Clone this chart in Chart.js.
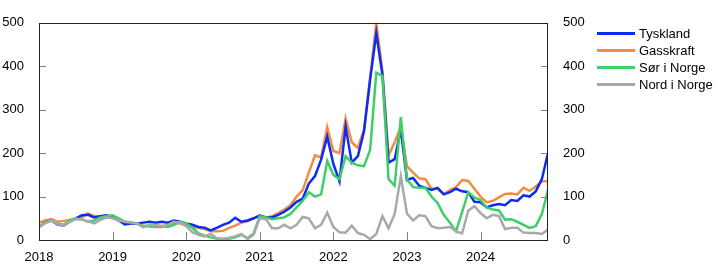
<!DOCTYPE html>
<html>
<head>
<meta charset="utf-8">
<script src="https://cdn.jsdelivr.net/npm/chart.js@4.4.1/dist/chart.umd.min.js"></script>
<style>
  html, body { margin: 0; padding: 0; background: #fff; }
  #wrap { position: relative; width: 722px; height: 278px; }
  canvas { position: absolute; left: 0; top: 0; }
  #legend { position: absolute; left: 597px; top: 25px; font-family: "Liberation Sans", Arial, sans-serif; font-size: 13px; color: #000; }
  .item { position: relative; height: 17px; display: flex; align-items: center; }
  .swatch { width: 38px; height: 3px; margin-right: 4px; }
</style>
</head>
<body>
<div id="wrap">
  <canvas id="c" width="722" height="278"></canvas>
  <div id="legend"></div>
</div>
<script>
// Monthly data, January 2018 – December 2024
const startYear = 2018;
const yearTicks = [2018, 2019, 2020, 2021, 2022, 2023, 2024];
const seriesNames = ["Tyskland", "Gasskraft", "Sør i Norge", "Nord i Norge"];
const seriesColors = ["#0a2cf5", "#f28c45", "#3ecf69", "#a9a9a9"];

const tyskland = [
  30, 40, 45, 36, 33, 42, 50, 57, 58, 52, 55, 57,
  52, 45, 36, 38, 38, 40, 42, 40, 42, 40, 45, 42,
  38, 35, 30, 28, 22, 28, 35, 40, 51, 42, 45, 50,
  56, 52, 52, 58, 65, 75, 88, 95, 130, 147, 185, 238,
  175, 135, 261, 178, 193, 250, 370, 476, 380, 178, 186, 255,
  138, 143, 125, 120, 115, 120, 105, 110, 118, 112, 110, 88,
  87, 75, 80, 83, 80, 92, 90, 103, 100, 112, 140, 200
];
const gasskraft = [
  40, 45, 48, 42, 44, 46, 48, 52, 61, 55, 53, 52,
  52, 46, 42, 40, 37, 33, 31, 30, 30, 35, 40, 38,
  33, 30, 28, 25, 20, 20, 21, 28, 33, 40, 43, 50,
  57, 52, 55, 62, 70, 80, 100, 115, 155, 195, 190, 260,
  205, 200, 280, 225, 212, 255, 375, 500, 390, 195, 225, 260,
  170, 155, 142, 140, 118, 118, 106, 115, 122, 138, 136, 118,
  100, 87, 90, 98, 106, 107, 105, 120, 113, 123, 135, 136
];
const sorNorge = [
  30, 40, 45, 38, 35, 45, 50, 47, 42, 45, 52, 55,
  57, 50, 42, 40, 38, 32, 33, 34, 32, 30, 35, 42,
  38, 28, 15, 10, 6, 3, 2, 3, 6, 12, 4, 15,
  55, 52, 48, 50, 52, 60, 75, 90, 110, 100, 105, 182,
  150, 140, 193, 178, 172, 170, 208, 385, 378, 140, 125, 283,
  140, 122, 120, 120, 100, 85, 58, 40, 20, 65, 110, 98,
  92, 75, 70, 68, 47, 48, 42, 35, 28, 32, 60, 115
];
const nordNorge = [
  30, 38, 45, 38, 33, 42, 48, 48, 43, 38, 46, 52,
  50, 45, 42, 41, 38, 29, 35, 35, 32, 35, 42, 40,
  32, 18, 12, 8, 14, 4, 3, 5, 8, 14, 2, 12,
  50, 48, 27, 27, 35, 27, 35, 53, 50, 27, 35, 63,
  30, 18, 17, 33, 16, 12, 2, 14, 55, 27, 60, 147,
  61, 45, 57, 55, 32, 27, 28, 30, 20, 15, 68, 78,
  62, 50, 58, 55, 25, 28, 28, 17, 16, 16, 14, 24
];
const yTicks = [0, 100, 200, 300, 400, 500];

const allSeries = [tyskland, gasskraft, sorNorge, nordNorge];
const drawOrder = [2, 3, 1, 0]; // grey on top, then green, blue, orange

const toPoints = arr => arr.map((v, i) => ({ x: startYear + i / 12, y: v }));
const lastX = startYear + (tyskland.length - 1) / 12;

const datasets = allSeries.map((arr, k) => ({
  label: seriesNames[k],
  data: toPoints(arr),
  borderColor: seriesColors[k],
  backgroundColor: seriesColors[k],
  borderWidth: 2.5,
  pointRadius: 0,
  tension: 0,
  order: drawOrder[k],
  yAxisID: 'y'
}));

const FONT = { family: '"Liberation Sans", Arial, sans-serif', size: 13 };

const framePlugin = {
  id: 'frame',
  afterDatasetsDraw(chart) {
    const { ctx, chartArea: a, scales } = chart;
    ctx.save();
    ctx.strokeStyle = '#808080';
    ctx.lineWidth = 1;
    ctx.beginPath();
    yTicks.forEach(v => {
      if (v === yTicks[0] || v === yTicks[yTicks.length - 1]) return;
      const y = Math.round(scales.y.getPixelForValue(v)) + 0.5;
      ctx.moveTo(a.left, y); ctx.lineTo(a.left + 7, y);
      ctx.moveTo(a.right, y); ctx.lineTo(a.right - 7, y);
    });
    yearTicks.forEach(yr => {
      if (yr === startYear) return;
      const x = Math.round(scales.x.getPixelForValue(yr)) + 0.5;
      ctx.moveTo(x, a.bottom); ctx.lineTo(x, a.bottom - 8);
    });
    ctx.stroke();
    ctx.strokeStyle = '#222';
    ctx.lineWidth = 1;
    const l = Math.round(a.left) + 0.5, r = Math.round(a.right) - 0.5;
    const t = Math.round(a.top) + 0.5, b = Math.round(a.bottom) + 0.5;
    ctx.strokeRect(l, t, r - l, b - t);
    ctx.restore();
  }
};

const noGrid = { display: false, drawTicks: false, tickLength: 0 };

new Chart(document.getElementById('c'), {
  type: 'line',
  data: { datasets },
  options: {
    responsive: false,
    animation: false,
    events: [],
    layout: { padding: { top: 17, left: 0, right: 0, bottom: 0 } },
    plugins: { legend: { display: false }, tooltip: { enabled: false } },
    scales: {
      x: {
        type: 'linear',
        min: startYear,
        max: lastX,
        afterFit: s => { s.height = 38; },
        afterBuildTicks: s => { s.ticks = yearTicks.map(v => ({ value: v })); },
        grid: noGrid,
        border: { display: false },
        ticks: {
          font: FONT, color: '#000', padding: 10, maxRotation: 0, autoSkip: false,
          callback: v => String(Math.round(v))
        }
      },
      y: {
        position: 'left',
        min: 0, max: 500,
        afterFit: s => { s.width = 39; },
        afterBuildTicks: s => { s.ticks = yTicks.map(v => ({ value: v })); },
        grid: noGrid,
        border: { display: false },
        ticks: { font: FONT, color: '#000', padding: 15 }
      },
      y2: {
        position: 'right',
        min: 0, max: 500,
        afterFit: s => { s.width = 174; },
        afterBuildTicks: s => { s.ticks = yTicks.map(v => ({ value: v })); },
        grid: noGrid,
        border: { display: false },
        ticks: { font: FONT, color: '#000', padding: 15 }
      }
    }
  },
  plugins: [framePlugin]
});

const leg = document.getElementById('legend');
seriesNames.forEach((name, k) => {
  const it = document.createElement('div');
  it.className = 'item';
  const sw = document.createElement('div');
  sw.className = 'swatch';
  sw.style.background = seriesColors[k];
  const tx = document.createElement('span');
  tx.textContent = name;
  it.appendChild(sw); it.appendChild(tx);
  leg.appendChild(it);
});
</script>
</body>
</html>
